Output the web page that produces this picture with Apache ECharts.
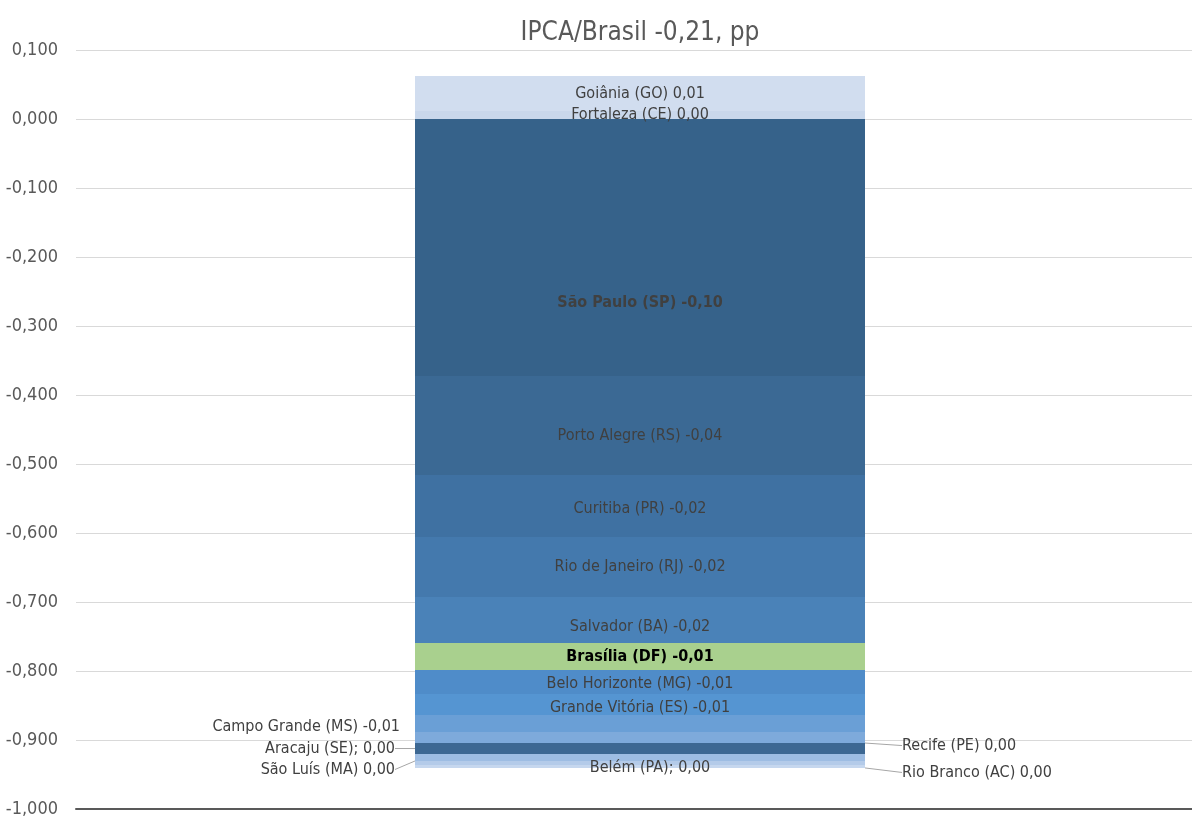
<!DOCTYPE html>
<html>
<head>
<meta charset="utf-8">
<script src="https://cdn.jsdelivr.net/npm/echarts@6/dist/echarts.min.js"></script>
<style>
  html, body { margin: 0; padding: 0; background: #fff; }
  #chart { width: 1192px; height: 819px; }
</style>
</head>
<body>
<div id="chart"></div>
<script>
  // segments of the single stacked bar: positives first (from zero up), then negatives from zero down
  const labels = [
    'Fortaleza (CE) 0,00',
    'Goiânia (GO) 0,01',
    'São Paulo (SP) -0,10',
    'Porto Alegre (RS) -0,04',
    'Curitiba (PR) -0,02',
    'Rio de Janeiro (RJ) -0,02',
    'Salvador (BA) -0,02',
    'Brasília (DF) -0,01',
    'Belo Horizonte (MG) -0,01',
    'Grande Vitória (ES) -0,01',
    'Campo Grande (MS) -0,01',
    'Recife (PE) 0,00',
    'Aracaju (SE); 0,00',
    'São Luís (MA) 0,00',
    'Belém (PA); 0,00',
    'Rio Branco (AC) 0,00'
  ];
  const barValues = [
    0.0116, 0.0507,
    -0.3725, -0.1435, -0.0899, -0.0870, -0.0667, -0.0391,
    -0.0348, -0.0304, -0.0246, -0.0159, -0.0159, -0.0101, -0.0058, -0.0043
  ];
  const colors = [
    '#c9d7eb', '#d1ddef',
    '#36628a', '#3b6994', '#3f71a2', '#4479ad', '#4a82b8', '#a9d08e',
    '#4f8cc9', '#5595d2', '#6a9fd6', '#7eaadb', '#3d6893', '#9ebde3', '#b4cbe9', '#c6d7ee'
  ];
  const yTicks = { min: -1, max: 0.1, step: 0.1 };

  const FONT = '"Liberation Sans Narrow", "DejaVu Sans Condensed", sans-serif';
  const grey = '#595959';

  // per-segment label tweaks (placement only)
  const labelTweaks = {
    2: { label: { offset: [0, 55], fontWeight: 'bold' } },
    3: { label: { offset: [0, 10] } },
    4: { label: { offset: [0, 3] } },
    6: { label: { offset: [0, 7] } },
    7: { label: { fontWeight: 'bold', color: '#000' } },
    8: { label: { offset: [0, 2] } },
    9: { label: { offset: [0, 3] } },
    10: { label: { position: 'left', distance: 15, offset: [0, 3] } },
    11: { label: { position: 'right', distance: 5 }, layout: { dx: 32, dy: 8 } },
    12: { label: { position: 'left', distance: 5 }, layout: { dx: -15, dy: 0 } },
    13: { label: { position: 'left', distance: 5 }, layout: { dx: -15, dy: 12 } },
    14: { label: { offset: [10, 5] } },
    15: { label: { position: 'right', distance: 5 }, layout: { dx: 32, dy: 6 } }
  };

  const series = labels.map((text, i) => {
    const t = labelTweaks[i] || {};
    const s = {
      name: text,
      type: 'bar',
      stack: 'total',
      barWidth: 450,
      xAxisIndex: 0,
      yAxisIndex: 0,
      data: [barValues[i]],
      itemStyle: { color: colors[i] },
      label: Object.assign({
        show: true,
        position: 'inside',
        formatter: text,
        color: '#404040',
        fontSize: 16,
        fontFamily: FONT
      }, t.label || {})
    };
    if (t.layout) {
      s.labelLayout = t.layout;
      s.labelLine = { show: true, length2: 0, lineStyle: { color: '#a6a6a6', width: 1 } };
    }
    return s;
  });

  const fmt = v => {
    if (Math.abs(v) < 1e-9) v = 0;
    return v.toFixed(3).replace('.', ',');
  };

  const chart = echarts.init(document.getElementById('chart'));
  chart.setOption({
    animation: false,
    title: {
      text: 'IPCA/Brasil -0,21, pp',
      left: 635,
      top: 15,
      textAlign: 'center',
      textStyle: { color: grey, fontSize: 26, fontWeight: 'normal', fontFamily: FONT }
    },
    // grid 0 holds the bar (centred on 640), grid 1 draws the axis and gridlines
    grid: [
      { left: 88, right: 0, top: 50, bottom: 10 },
      { left: 76, right: 0, top: 50, bottom: 10 }
    ],
    xAxis: [
      { type: 'category', gridIndex: 0, data: [''], show: false },
      {
        type: 'category',
        gridIndex: 1,
        data: [''],
        axisLine: { onZero: false, lineStyle: { color: '#595959', width: 2 } },
        axisTick: { show: false },
        axisLabel: { show: false }
      }
    ],
    yAxis: [
      {
        type: 'value', gridIndex: 0,
        min: yTicks.min, max: yTicks.max, interval: yTicks.step,
        show: false,
        splitLine: { show: false }
      },
      {
        type: 'value', gridIndex: 1,
        min: yTicks.min, max: yTicks.max, interval: yTicks.step,
        axisLine: { show: false },
        axisTick: { show: false },
        splitLine: { lineStyle: { color: '#d9d9d9' } },
        axisLabel: { color: grey, fontSize: 18, fontFamily: FONT, margin: 18, formatter: fmt }
      }
    ],
    series: series
  });
</script>
</body>
</html>
